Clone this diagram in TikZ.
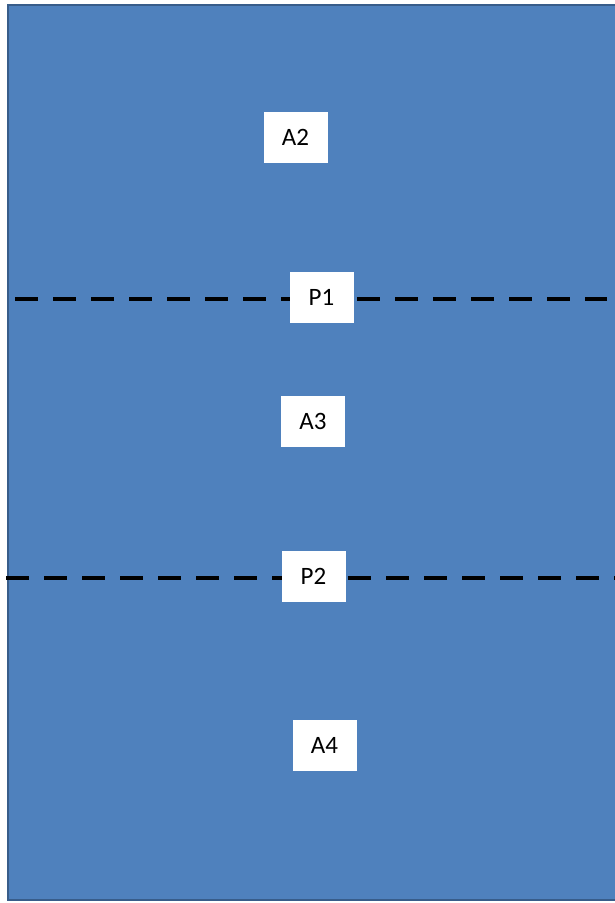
\documentclass[tikz,border=0pt]{standalone}
\usepackage{fontspec}
\setmainfont{Carlito}
\definecolor{areablue}{HTML}{4F81BD}
\definecolor{edgeblue}{HTML}{385D8A}
\tikzset{
    label box/.style={fill=white, minimum width=64pt, minimum height=51pt, inner sep=0pt, font=\fontsize{25}{28}\selectfont},
    cut line/.style={line width=4pt, dash pattern=on 23pt off 15pt}
}
\begin{document}
\begin{tikzpicture}[x=1pt, y=-1pt]
    \useasboundingbox (0,0) rectangle (615,903);
    % the whole area
    \fill[white] (0,0) rectangle (615,903);
    \draw[fill=areablue, draw=edgeblue, line width=2.5pt] (8,5) rectangle (640,900);

    % cut lines
    \coordinate (p1l) at (15,299); \coordinate (p1r) at (607,299);
    \coordinate (p2l) at (6,578);  \coordinate (p2r) at (620,578);
    \draw[cut line] (p1l) -- (p1r);
    \draw[cut line] (p2l) -- (p2r);

    % labels
    \node[label box] (a2) at (295.5,137) {A2};
    \node[label box] (p1) at (321.5,297) {P1};
    \node[label box] (a3) at (313,421.5) {A3};
    \node[label box] (p2) at (313.5,576.5) {P2};
    \node[label box] (a4) at (324.5,745) {A4};
\end{tikzpicture}
\end{document}
